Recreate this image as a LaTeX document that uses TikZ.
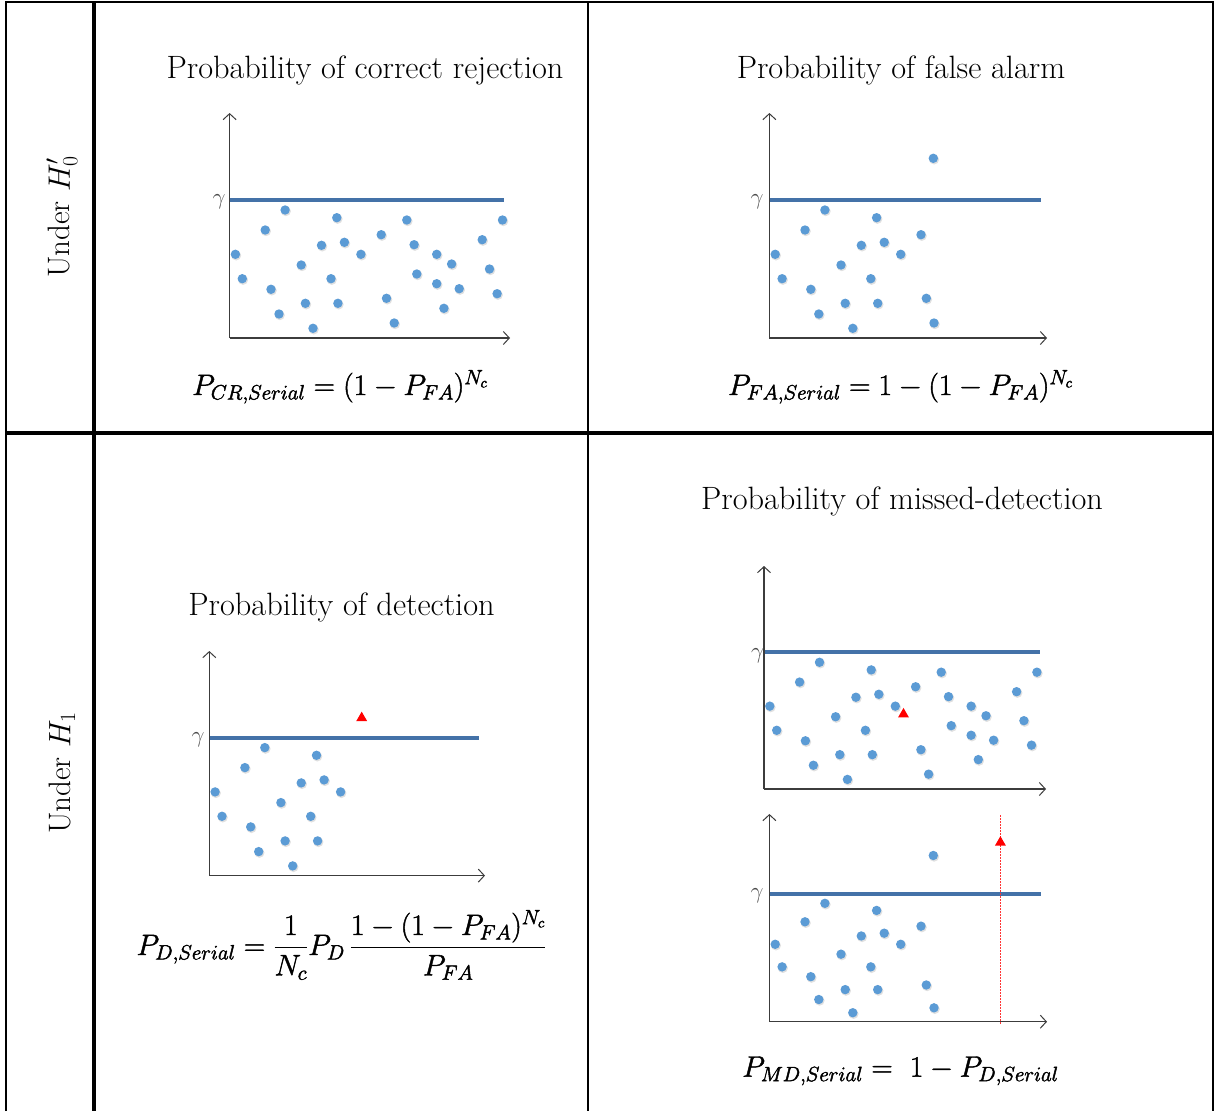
\RequirePackage{fix-cm}
\documentclass[tikz,border=0pt]{standalone}
\usetikzlibrary{arrows.meta,shapes.geometric}
\definecolor{dotblue}{RGB}{91,155,213}
\definecolor{lineblue}{RGB}{68,114,168}
\definecolor{axisgray}{RGB}{60,60,60}
\newcommand\heavytext[1]{\special{pdf:literal direct 2 Tr 0.45 w}#1\special{pdf:literal direct 0 Tr}}
\newcommand\dotset[4]{%
  \foreach \dx/\dy in #4 {%
    \fill[black,opacity=0.12] ({#1+\dx+0.8},{#2+\dy*#3+1.2}) circle (5);
    \fill[dotblue] ({#1+\dx},{#2+\dy*#3}) circle (4.7);
  }}
\def\patB{5.8/-83.7, 12.7/-59.3, 35.6/-108, 55.5/-128, 41.4/-48.7, 49.4/-24, 71.6/-73, 75.8/-34.7, 83.4/-9.7, 91.9/-92.7, 101.4/-59.3, 107.2/-120.3, 108.3/-34.7, 114.8/-95.7, 131.3/-83.7}
\def\patD{151.6/-103.3, 156.9/-39.7, 164.6/-15}
\def\patC{177.2/-118, 184.5/-93.3, 187.2/-64, 207.1/-83.7, 207.1/-54.3, 214.3/-29.7, 222/-74, 229.6/-49.3, 252.6/-98.3, 259.9/-69, 267.5/-44.3, 272.9/-118}
\begin{document}
\begin{tikzpicture}[x=1pt,y=-1pt,
  gridline/.style={line width=2.3pt,black},
  thickgrid/.style={line width=4.2pt,black},
  axis/.style={line width=1.1pt,axisgray,-{Straight Barb[length=6pt,width=13pt,line width=1pt]}},
  gline/.style={line width=4pt,lineblue},
  glabel/.style={font=\fontsize{23}{23}\selectfont,text=black!70,inner sep=0pt},
  title/.style={font=\fontsize{32.3}{38}\selectfont,anchor=base,inner sep=0pt},
  formula/.style={font=\fontsize{29.6}{34}\selectfont,anchor=base,inner sep=0pt},
  rowlabel/.style={font=\fontsize{31}{36}\selectfont,rotate=90,inner sep=0pt},
  tri/.style={regular polygon,regular polygon sides=3,fill=red,inner sep=0pt,minimum size=12.7pt},
  reddot/.style={red!80,line width=0.8pt,dash pattern=on 1.5pt off 1.5pt}
]
\useasboundingbox (0,0) rectangle (1215,1111);
\fill[white] (0,0) rectangle (1215,1111);
% table grid
\coordinate (tl) at (6,2); \coordinate (tr) at (1213,2);
\coordinate (bl) at (6,1111); \coordinate (br) at (1213,1111);
\coordinate (vt) at (94,2); \coordinate (vb) at (94,1111);
\coordinate (mt) at (588,2); \coordinate (mb) at (588,1111);
\coordinate (hl) at (6,433); \coordinate (hr) at (1213,433);
\draw[gridline] (bl) -- (tl) -- (tr) -- (br);
\draw[gridline] (mt) -- (mb);
\draw[thickgrid] (vt) -- (vb);
\draw[thickgrid] (hl) -- (hr);
% row labels
\node[rowlabel] (r0) at (62,217) {Under $H_0'$};
\node[rowlabel] (r1) at (62,773) {Under $H_1$};
% ---- panel 1
\node[title] (t1) at (365,78) {Probability of correct rejection};
\coordinate (p1o) at (229.6,338); \coordinate (p1y) at (229.6,113); \coordinate (p1x) at (510,338);
\coordinate (p1g) at (229.6,200); \coordinate (p1ge) at (503.6,200);
\draw[gline] (p1g) -- (p1ge);
\draw[axis] (p1o) -- (p1y); \draw[axis] (p1o) -- (p1x);
\node[glabel] (g1) at (219,202) {$\gamma$};
\dotset{229.6}{338}{1}{\patB}
\dotset{229.6}{338}{1}{\patD}
\dotset{229.6}{338}{1}{\patC}
\node[formula] (f1) at (340,395) {\heavytext{$P_{CR,Serial} = (1-P_{FA})^{N_c}$}};
% ---- panel 2
\node[title] (t2) at (901,78) {Probability of false alarm};
\coordinate (p2o) at (769.4,338); \coordinate (p2y) at (769.4,113); \coordinate (p2x) at (1047,338);
\coordinate (p2g) at (769.4,200); \coordinate (p2ge) at (1041,200);
\draw[gline] (p2g) -- (p2ge);
\draw[axis] (p2o) -- (p2y); \draw[axis] (p2o) -- (p2x);
\node[glabel] (g2) at (757,202) {$\gamma$};
\dotset{769.4}{338}{1}{\patB}
\dotset{769.4}{338}{1}{\patD}
\dotset{769.4}{338}{1}{{163.9/-179.7}}
\node[formula] (f2) at (900.5,395) {\heavytext{$P_{FA,Serial} = 1-(1-P_{FA})^{N_c}$}};
% ---- panel 3
\node[title] (t3) at (341.5,615.6) {Probability of detection};
\coordinate (p3o) at (209.3,875.6); \coordinate (p3y) at (209.3,651); \coordinate (p3x) at (485,875.6);
\coordinate (p3g) at (209.3,737.8); \coordinate (p3ge) at (479,737.8);
\draw[gline] (p3g) -- (p3ge);
\draw[axis] (p3o) -- (p3y); \draw[axis] (p3o) -- (p3x);
\node[glabel] (g3) at (198,740) {$\gamma$};
\dotset{209.3}{875.6}{1}{\patB}
\node[tri] (tr3) at (361.7,718) {};
\node[formula] (f3) at (341.5,955) {\heavytext{$\displaystyle P_{D,Serial} = \frac{1}{N_c}P_D\,\frac{1-(1-P_{FA})^{N_c}}{P_{FA}}$}};
% ---- panel 4
\node[title] (t4) at (902,509) {Probability of missed-detection};
\coordinate (p4o) at (764,789); \coordinate (p4y) at (764,566); \coordinate (p4x) at (1046,789);
\coordinate (p4g) at (764,652.3); \coordinate (p4ge) at (1040,652.3);
\draw[gline] (p4g) -- (p4ge);
\draw[axis] (p4o) -- (p4y); \draw[axis] (p4o) -- (p4x);
\node[glabel] (g4) at (757.6,655.7) {$\gamma$};
\dotset{764}{789}{0.99}{\patB}
\dotset{764}{789}{0.99}{\patD}
\dotset{764}{789}{0.99}{\patC}
\node[tri] (tr4) at (903.5,714.3) {};
% lower plot
\coordinate (p5o) at (769.4,1021.7); \coordinate (p5y) at (769.4,814); \coordinate (p5x) at (1047,1021.7);
\coordinate (p5g) at (769.4,894.3); \coordinate (p5ge) at (1041,894.3);
\coordinate (rdt) at (1000.4,815); \coordinate (rdb) at (1000.4,1025);
\draw[gline] (p5g) -- (p5ge);
\draw[axis] (p5o) -- (p5y); \draw[axis] (p5o) -- (p5x);
\draw[reddot] (rdt) -- (rdb);
\node[glabel] (g5) at (757,896) {$\gamma$};
\dotset{769.4}{1021.7}{0.925}{\patB}
\dotset{769.4}{1021.7}{0.925}{\patD}
\dotset{769.4}{1021.7}{0.925}{{163.9/-179.7}}
\node[tri] (tr5) at (1000.4,842.5) {};
\node[formula] (f4) at (900.5,1076.7) {\heavytext{$P_{MD,Serial} =\ 1-P_{D,Serial}$}};
\end{tikzpicture}
\end{document}
